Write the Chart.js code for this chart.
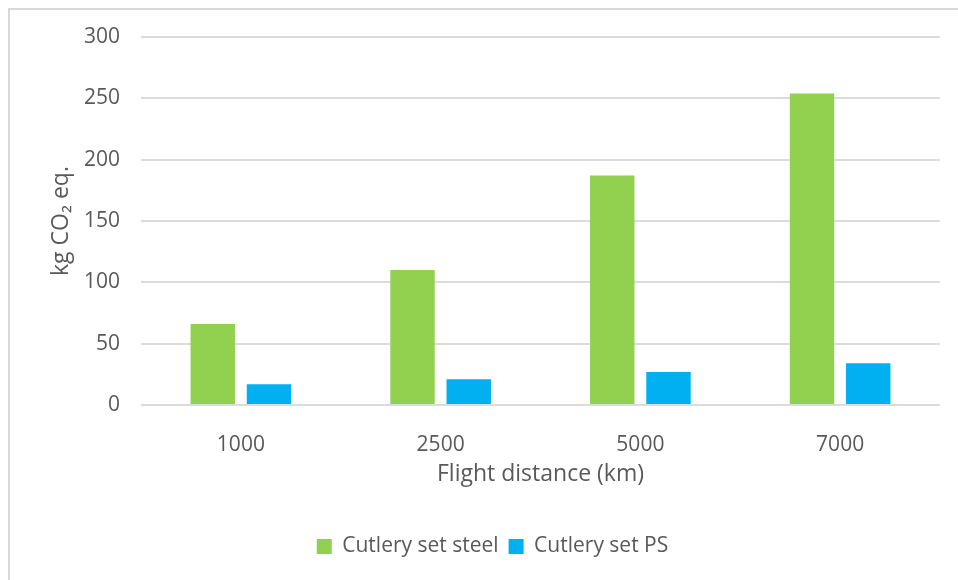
<!DOCTYPE html>
<html>
<head>
<meta charset="utf-8">
<script src="https://cdn.jsdelivr.net/npm/chart.js@4/dist/chart.umd.min.js"></script>
<style>
  html, body { margin: 0; padding: 0; background: #fff; }
  #wrap { position: relative; width: 958px; height: 580px; overflow: hidden; }
  /* light frame round the chart, only top and left edges fall inside the page */
  #frame { position: absolute; left: 8px; top: 8px; width: 1000px; height: 1000px;
           border: 2px solid #d9d9d9; box-sizing: border-box; }
  canvas { position: absolute; left: 0; top: 0; }
</style>
</head>
<body>
<div id="wrap">
  <div id="frame"></div>
  <canvas id="chart" width="958" height="580"></canvas>
</div>
<script>
// flight distances (km) and emissions per cutlery set
const distances = ["1000", "2500", "5000", "7000"];
const steelValues = [66, 110, 187, 254];
const psValues = [17, 21, 27, 34];
const yTicks = [0, 50, 100, 150, 200, 250, 300];

const textGrey = "#595959";
const fontFamily = "'Open Sans', 'Noto Sans', sans-serif";

Chart.defaults.font.family = fontFamily;
Chart.defaults.color = textGrey;

new Chart(document.getElementById("chart"), {
  type: "bar",
  data: {
    labels: distances,
    datasets: [
      {
        label: "Cutlery set steel",
        data: steelValues,
        backgroundColor: "#92D050",
        borderWidth: 0,
      },
      {
        label: "Cutlery set PS",
        data: psValues,
        backgroundColor: "#00B0F0",
        borderWidth: 0,
      },
    ],
  },
  options: {
    responsive: false,
    animation: false,
    events: [],
    categoryPercentage: 0.563,
    barPercentage: 0.79,
    layout: { padding: { left: 45, right: 18, top: 37, bottom: 13 } },
    plugins: {
      tooltip: { enabled: false },
      legend: {
        position: "bottom",
        labels: {
          boxWidth: 15,
          boxHeight: 15,
          padding: 10,
          color: textGrey,
          font: { size: 21 },
        },
      },
    },
    scales: {
      x: {
        grid: { display: false },
        border: { display: false },
        ticks: { color: textGrey, font: { size: 21 }, padding: 19 },
        title: {
          display: true,
          text: "Flight distance (km)",
          color: textGrey,
          font: { size: 23 },
          padding: { top: 0, bottom: 38 },
        },
        afterFit: (scale) => { scale.height = 121; },
      },
      y: {
        min: 0,
        max: 300,
        afterBuildTicks: (scale) => {
          scale.ticks = yTicks.map((v) => ({ value: v }));
        },
        grid: { color: "#dcdcdc", lineWidth: 2, drawTicks: false },
        border: { display: false },
        ticks: { color: textGrey, font: { size: 21 }, padding: 21 },
        title: {
          display: true,
          text: "kg CO₂ eq.",
          color: textGrey,
          font: { size: 23 },
          padding: { top: 3, bottom: 0 },
        },
        afterFit: (scale) => { scale.width = 96; },
      },
    },
  },
});
</script>
</body>
</html>
